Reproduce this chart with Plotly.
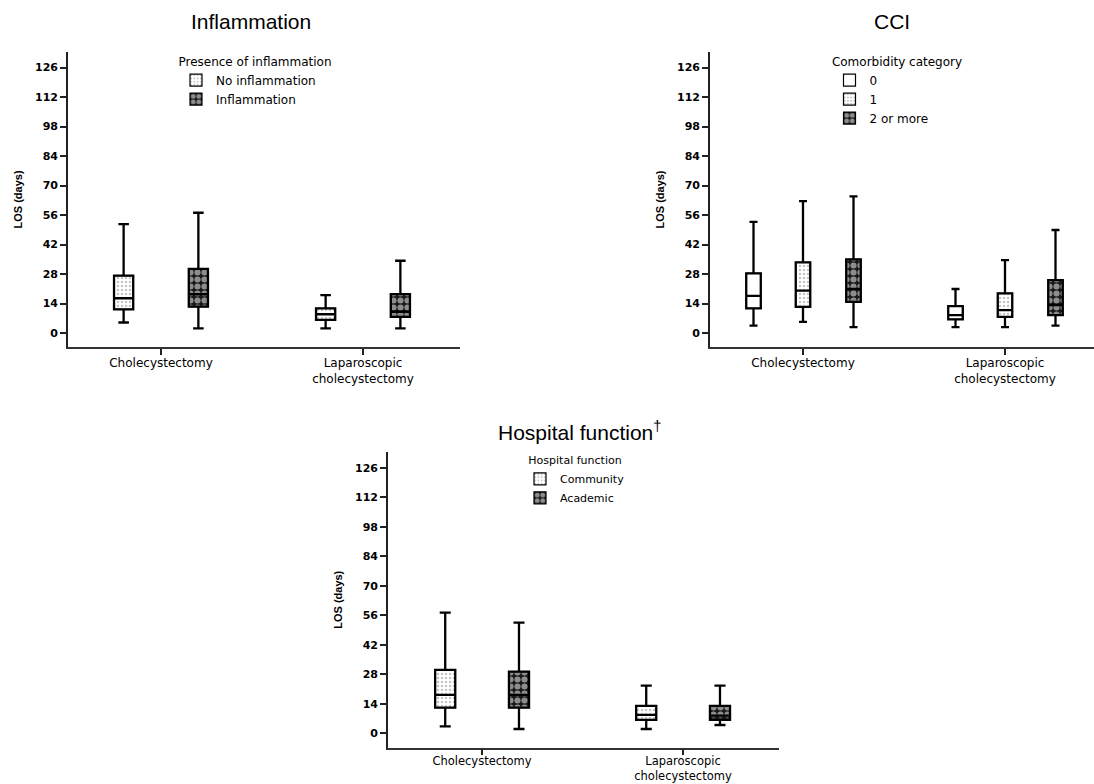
import plotly.graph_objects as go

# ---------------- data ----------------
categories = ["Cholecystectomy", "Laparoscopic cholecystectomy"]
category_tick_labels = ["Cholecystectomy", "Laparoscopic<br>cholecystectomy"]
y_tick_values = [0, 14, 28, 42, 56, 70, 84, 98, 112, 126]

# Panel 1: Inflammation
no_infl_lower = [5.0, 2.2]
no_infl_q1 = [11.2, 6.2]
no_infl_median = [16.5, 8.9]
no_infl_q3 = [27.2, 11.7]
no_infl_upper = [51.7, 18.0]

infl_lower = [2.2, 2.2]
infl_q1 = [12.5, 7.7]
infl_median = [18.4, 10.1]
infl_q3 = [30.4, 18.5]
infl_upper = [57.1, 34.3]

# Panel 2: CCI
cci0_lower = [3.5, 2.8]
cci0_q1 = [11.7, 6.5]
cci0_median = [17.6, 8.5]
cci0_q3 = [28.3, 12.8]
cci0_upper = [52.8, 20.9]

cci1_lower = [5.3, 2.8]
cci1_q1 = [12.4, 7.7]
cci1_median = [20.1, 10.9]
cci1_q3 = [33.5, 18.8]
cci1_upper = [62.6, 34.6]

cci2_lower = [2.8, 3.5]
cci2_q1 = [14.8, 8.5]
cci2_median = [21.0, 13.3]
cci2_q3 = [35.0, 25.1]
cci2_upper = [64.9, 48.9]

# Panel 3: Hospital function
comm_lower = [3.2, 2.0]
comm_q1 = [12.2, 6.3]
comm_median = [18.2, 8.7]
comm_q3 = [30.1, 13.0]
comm_upper = [57.3, 22.6]

acad_lower = [2.0, 3.9]
acad_q1 = [12.2, 6.3]
acad_median = [18.2, 8.4]
acad_q3 = [29.3, 13.0]
acad_upper = [52.5, 22.6]

# ---------------- styling ----------------
FONT = "Liberation Sans, Arial, sans-serif"
WIDE = "DejaVu Sans, Verdana, sans-serif"
W, H = 1094, 784

PAT_DOTS = dict(shape=".", fgcolor="#8a8a8a", bgcolor="white", size=4, solidity=0.3)
PAT_DARK = dict(shape=".", fgcolor="white", bgcolor="#1a1a1a", size=7, solidity=0.6)
PAT_NONE = dict(shape="")

fig = go.Figure()


def add_series(name, lower, q1, med, q3, upper, offset, width, pattern, xa, ya, legend):
    pos = [i + offset for i in range(len(categories))]
    fig.add_trace(go.Bar(
        x=pos, y=[b - a for a, b in zip(q1, q3)], base=q1, width=width,
        marker=dict(color="white", pattern=pattern, line=dict(color="black", width=1.2)),
        name=name, legend=legend, xaxis=xa, yaxis=ya, hoverinfo="skip",
    ))
    fig.add_trace(go.Box(
        x=pos, q1=q1, median=med, q3=q3, lowerfence=lower, upperfence=upper,
        width=width, whiskerwidth=0.55, fillcolor="rgba(0,0,0,0)",
        line=dict(color="black", width=2.3), boxpoints=False,
        showlegend=False, xaxis=xa, yaxis=ya, name=name,
    ))


# Panel 1
add_series("No inflammation", no_infl_lower, no_infl_q1, no_infl_median, no_infl_q3, no_infl_upper,
           -0.185, 0.095, PAT_DOTS, "x", "y", "legend")
add_series("Inflammation", infl_lower, infl_q1, infl_median, infl_q3, infl_upper,
           0.185, 0.095, PAT_DARK, "x", "y", "legend")
# Panel 2
add_series("0", cci0_lower, cci0_q1, cci0_median, cci0_q3, cci0_upper,
           -0.245, 0.072, PAT_NONE, "x2", "y2", "legend2")
add_series("1", cci1_lower, cci1_q1, cci1_median, cci1_q3, cci1_upper,
           0.0, 0.072, PAT_DOTS, "x2", "y2", "legend2")
add_series("2 or more", cci2_lower, cci2_q1, cci2_median, cci2_q3, cci2_upper,
           0.25, 0.072, PAT_DARK, "x2", "y2", "legend2")
# Panel 3
add_series("Community", comm_lower, comm_q1, comm_median, comm_q3, comm_upper,
           -0.183, 0.1, PAT_DOTS, "x3", "y3", "legend3")
add_series("Academic", acad_lower, acad_q1, acad_median, acad_q3, acad_upper,
           0.184, 0.1, PAT_DARK, "x3", "y3", "legend3")


def xaxis(dom, rng, anchor, size=12, standoff=-2):
    return dict(domain=dom, range=rng, anchor=anchor, tickmode="array", automargin=False,
                tickvals=list(range(len(categories))), ticktext=category_tick_labels,
                showline=True, linecolor="#333", linewidth=1.6, ticks="outside",
                ticklen=6, tickwidth=1.6, tickcolor="#222", showgrid=False, zeroline=False,
                ticklabelstandoff=standoff,
                tickfont=dict(family=WIDE, size=size, color="black"), fixedrange=True)


def yaxis(dom, rng, anchor):
    return dict(domain=dom, range=rng, anchor=anchor, tickmode="array", automargin=False,
                tickvals=y_tick_values, showline=True, linecolor="#222", linewidth=1.6,
                ticks="outside", ticklen=6, tickwidth=1.6, tickcolor="#222",
                showgrid=False, zeroline=False,
                tickfont=dict(family=WIDE, size=11, color="black", weight="bold"),
                title=dict(text="LOS (days)", standoff=10,
                           font=dict(family=FONT, size=11, color="black", weight="bold")))


def legend(title, xc, ytop, size=12):
    return dict(title=dict(text=title, side="top center",
                           font=dict(family=WIDE, size=size, color="black")),
                x=xc / W, xanchor="center", y=1 - ytop / H, yanchor="top",
                bgcolor="rgba(0,0,0,0)", font=dict(family=WIDE, size=size, color="black"),
                itemwidth=30, tracegroupgap=0, traceorder="normal")


fig.update_layout(
    width=W, height=H, margin=dict(l=0, r=0, t=0, b=0, autoexpand=False),
    paper_bgcolor="white", plot_bgcolor="white",
    barmode="overlay", boxmode="overlay",
    font=dict(family=FONT, color="black"),
    xaxis=xaxis([68 / W, 460 / W], [-0.4604, 1.4802], "y"),
    yaxis=yaxis([1 - 347 / H, 1 - 52 / H], [-6.64, 133.4], "x"),
    xaxis2=xaxis([710 / W, 1.0], [-0.4604, 1.4406], "y2"),
    yaxis2=yaxis([1 - 347 / H, 1 - 52 / H], [-6.64, 133.4], "x2"),
    xaxis3=xaxis([388 / W, 779 / W], [-0.4677, 1.4776], "y3", size=11.5, standoff=-4),
    yaxis3=yaxis([1 - 747.5 / H, 1 - 452 / H], [-6.79, 133.6], "x3"),
    legend=legend("Presence of inflammation", 255, 50),
    legend2=legend("Comorbidity category", 897, 50),
    legend3=legend("Hospital function", 575, 450, 11),
    showlegend=True,
)

for text, xc, yc in [("Inflammation", 251, 22), ("CCI", 892, 21),
                     ("Hospital function<sup>\u2020</sup>", 579, 431)]:
    fig.add_annotation(text=text, x=xc / W, y=1 - yc / H, xref="paper", yref="paper",
                       xanchor="center", yanchor="middle", showarrow=False,
                       font=dict(family=FONT, size=21, color="black"))

fig.write_html("out.html")
